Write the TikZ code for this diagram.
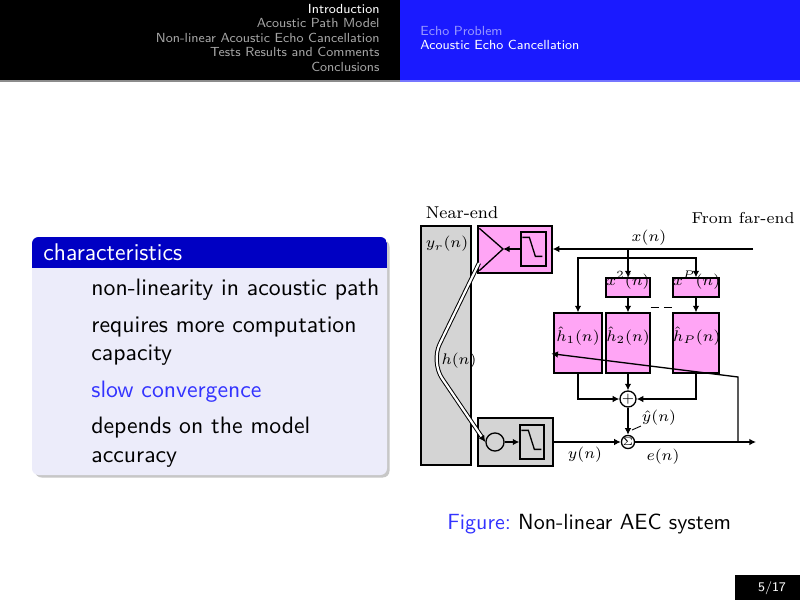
\documentclass[tikz,border=0pt]{standalone}
\usepackage{tikz}
\usetikzlibrary{calc,fit,arrows.meta}
\definecolor{hdblue}{RGB}{26,26,255}
\definecolor{hdgray}{RGB}{165,165,165}
\definecolor{hdlight}{RGB}{150,150,255}
\definecolor{blktitle}{RGB}{0,0,195}
\definecolor{blkbody}{RGB}{236,236,250}
\definecolor{alertblue}{RGB}{51,51,255}
\definecolor{pinkbox}{RGB}{255,165,245}
\definecolor{roomgray}{RGB}{212,212,212}
\def\lpfcurve(#1){\draw[line width=0.6pt] ($(#1.north west)+(2,6)$) -- ++(7,0) -- ++(6,19) -- ++(7,0);}
\tikzset{
  hdtext/.style={font=\sffamily\fontsize{6}{7}\selectfont, inner sep=0},
  itemtext/.style={font=\sffamily\fontsize{10.8}{12}\selectfont, anchor=base west, inner sep=0},
  lbl/.style={font=\fontsize{7.2}{8}\selectfont, inner sep=0},
  pinkblock/.style={draw, fill=pinkbox, line width=0.6pt, inner sep=0, font=\fontsize{6.6}{8}\selectfont},
  graybox/.style={draw, fill=roomgray, line width=0.6pt, inner sep=0},
  sig/.style={line width=0.6pt, -{Latex[length=3pt,width=3pt]}},
  wire/.style={line width=0.6pt},
  hpath/.style={double, double distance=1pt, line width=0.45pt, rounded corners=9pt},
}
\begin{document}
\begin{tikzpicture}[x=0.16mm, y=-0.16mm]
		%%%%% START %%%%%
		\useasboundingbox (0,0) rectangle (800,600);
		\fill[white] (0,0) rectangle (800,600);
		
		% headline
		\fill[black] (0,0) rectangle (400,80);
		\fill[hdblue] (400,0) rectangle (800,80);
		\fill[black!45] (0,80) rectangle (400,81.5);
		\fill[hdblue!60] (400,80) rectangle (800,81.5);
		\node[hdtext, anchor=base east, text=white] (secA) at (380,13) {Introduction};
		\node[hdtext, anchor=base east, text=hdgray] (secB) at (380,27.5) {Acoustic Path Model};
		\node[hdtext, anchor=base east, text=hdgray] (secC) at (380,42) {Non-linear Acoustic Echo Cancellation};
		\node[hdtext, anchor=base east, text=hdgray] (secD) at (380,56.5) {Tests Results and Comments};
		\node[hdtext, anchor=base east, text=hdgray] (secE) at (380,71) {Conclusions};
		\node[hdtext, anchor=base west, text=hdlight] (subA) at (420,35) {Echo Problem};
		\node[hdtext, anchor=base west, text=white] (subB) at (420,49.5) {Acoustic Echo Cancellation};
		
		% block
		\fill[black!22, rounded corners=3pt] (35,240) rectangle (389.5,477.5);
		\fill[blkbody, rounded corners=3pt] (32,237) rectangle (387,475);
		\begin{scope}
			\clip[rounded corners=3pt] (32,237) rectangle (387,475);
			\fill[blktitle] (32,237) rectangle (387,268);
		\end{scope}
		\node[itemtext, font=\sffamily\fontsize{11}{12}\selectfont, text=white] (blktitle) at (43,260) {characteristics};
		\node[itemtext] (itemA) at (91,295) {non-linearity in acoustic path};
		\node[itemtext] (itemB) at (91,332) {requires more computation};
		\node[itemtext] (itemBb) at (91,360) {capacity};
		\node[itemtext, text=alertblue] (itemC) at (91,397) {slow convergence};
		\node[itemtext] (itemD) at (91,433) {depends on the model};
		\node[itemtext] (itemDd) at (91,462) {accuracy};
		
		% room and near-end boxes
		\node[lbl, font=\fontsize{7.8}{9}\selectfont, anchor=base] (nearend) at (462,218) {Near-end};
		\node[lbl, anchor=base east] (farend) at (795,223) {From far-end};
		\node[graybox, fit={(421,226) (471,465)}] (room) {};
		\node[lbl] (yr) at (447,244) {$y_r(n)$};
		\node[pinkblock, fit={(478,226) (552,273)}] (spk) {};
		\node[draw, line width=0.6pt, fill=pinkbox, inner sep=0, fit={(521,232) (546,266)}] (lpfT) {};
		\lpfcurve(lpfT)
		\coordinate (apex) at (503,249);
		\draw[wire] ($(spk.north west)+(2,3)$) -- (apex) -- ($(spk.south west)+(2,-3)$);
		\draw[sig] (lpfT.west) -- (apex);
		
		\node[graybox, fit={(478,418) (553,466)}] (micbox) {};
		\node[draw, circle, line width=0.6pt, minimum size=2.9mm, inner sep=0] (mic) at (495,442) {};
		\node[draw, line width=0.6pt, inner sep=0, fit={(520,425) (544,459)}] (lpfB) {};
		\lpfcurve(lpfB)
		\draw[sig] (mic.east) -- (lpfB.west);
		
		% acoustic path
		\coordinate (spkout) at (479,263);
		\coordinate (bend) at (431,362);
		\draw[hpath, -{Latex[length=3pt,width=3pt]}] (spkout) -- (bend) -- (mic.west);
		\node[lbl, font=\fontsize{7}{8}\selectfont] (hn) at (459,361) {$h(n)$};
		
		% far-end input and branches
		\coordinate (far) at (753,249);
		\coordinate (xs) at (628,249);
		\coordinate (br) at (628,258);
		\node[lbl] (xn) at (649,238) {$x(n)$};
		\node[pinkblock, fit={(606,278) (650,297)}] (x2) {$x^2(n)$};
		\node[pinkblock, fit={(673,278) (719,297)}] (xP) {$x^P(n)$};
		\node[pinkblock, fit={(554,313) (602,373)}] (h1) {$\hat h_1(n)$};
		\node[pinkblock, fit={(606,313) (650,373)}] (h2) {$\hat h_2(n)$};
		\node[pinkblock, fit={(673,313) (719,373)}] (hP) {$\hat h_P(n)$};
		\draw[sig] (far) -- (far -| spk.east);
		\draw[sig] (xs) -- (x2.north);
		\draw[sig] (br) -| (h1.north);
		\draw[sig] (br) -| (xP.north);
		\draw[sig] (x2.south) -- (h2.north);
		\draw[sig] (xP.south) -- (hP.north);
		\draw[wire, dash pattern=on 4pt off 2pt] ($(x2.south east)+(0,10)$) -- ($(xP.south west)+(0,10)$);
		
		% combiner and error
		\node[draw, circle, line width=0.6pt, minimum size=1.7mm, inner sep=0, font=\fontsize{6}{6}\selectfont] (plus) at (628,399) {$+$};
		\node[draw, circle, line width=0.6pt, minimum size=2.1mm, inner sep=0, font=\fontsize{5}{5}\selectfont] (sum) at (628,442) {$\Sigma$};
		\draw[sig] (h1.south) |- (plus.west);
		\draw[sig] (h2.south) -- (plus.north);
		\draw[sig] (hP.south) |- (plus.east);
		\draw[sig] (plus.south) -- (sum.north);
		\node[lbl] (yhat) at (659,418) {$\hat y(n)$};
		\draw[wire, line width=0.4pt] (641,426) -- (632,430);
		\draw[sig] (micbox.east) -- (sum.west);
		\node[lbl] (yn) at (585,455) {$y(n)$};
		\coordinate (out) at (756,442);
		\coordinate (tap) at (738,442);
		\coordinate (adapt) at (738,377);
		\draw[sig] (sum.east) -- (out);
		\node[lbl] (en) at (663,457) {$e(n)$};
		\draw[sig] (tap) -- (adapt) -- ($(h1.south west)+(-2,-20)$);
		
		% caption and frame number
		\node[itemtext, font=\sffamily\fontsize{10}{12}\selectfont] (caption) at (447,529) {\textcolor{alertblue}{Figure:}\ Non-linear AEC system};
		\fill[black] (735,575) rectangle (800,600);
		\node[hdtext, text=white] (pageno) at (772,588) {5/17};
		%%%%% END %%%%%
	\end{tikzpicture}
\end{document}
